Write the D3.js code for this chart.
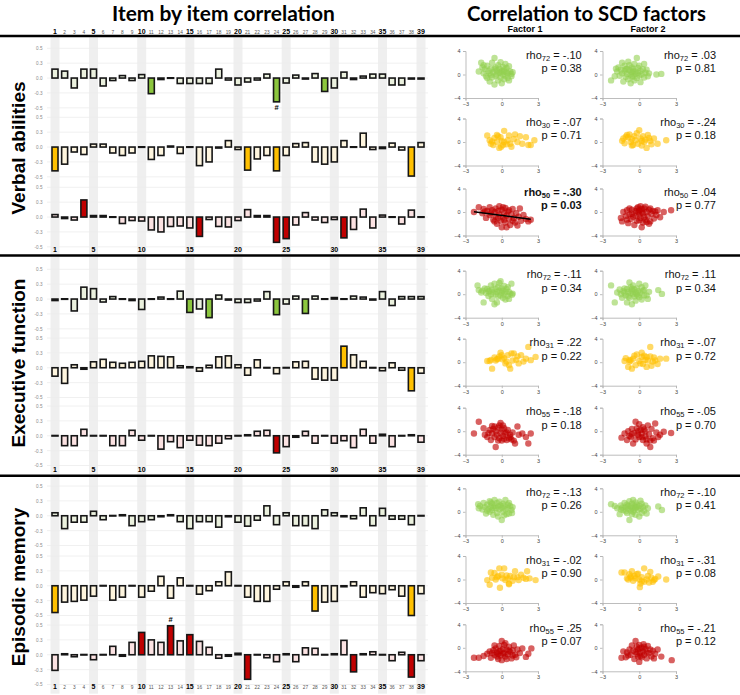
<!DOCTYPE html>
<html><head><meta charset="utf-8">
<script src="https://cdn.jsdelivr.net/npm/d3@7"></script>
<style>body{margin:0;background:#fff}svg{display:block}</style>
</head><body>
<svg id="chart" width="740" height="695"></svg>
<script>
// ---------------- DATA ----------------
const items = [1,2,3,4,5,6,7,8,9,10,11,12,13,14,15,16,17,18,19,20,21,22,23,24,25,26,27,28,29,30,31,32,33,34,35,36,37,38,39];
const boldItems = [1,5,10,15,20,25,30,35,39];
const yTickValues = [0.5,0.3,0,-0.3,-0.5];
const yTickLabels = ["0.5","0.3","0.0","-0.3","-0.5"];
const sectionNames = ["Verbal abilities","Executive function","Episodic memory"];
const groupNames = ["green","yellow","red"];
const factorNames = ["Factor 1","Factor 2"];
const scatterXTicks = [-3,0,3];
const scatterYTicks = [4,0,-4];

// item-by-item correlation bars
const verbalGreen  = [0.18,0.14,-0.20,0.18,0.18,-0.16,-0.05,0.05,-0.05,0.07,-0.31,-0.03,0.01,-0.11,-0.11,-0.11,-0.11,0.18,-0.04,-0.14,-0.08,-0.04,0.08,-0.42,-0.10,0.06,-0.02,0.09,-0.27,-0.20,0.12,-0.03,0.04,0.08,0.08,-0.14,-0.14,-0.02,-0.02];
const verbalYellow = [-0.42,-0.33,-0.10,-0.15,0.06,0.06,-0.12,-0.17,-0.12,-0.01,-0.25,-0.17,0.02,-0.13,-0.01,-0.35,-0.30,-0.02,0.13,-0.05,-0.41,-0.24,-0.17,-0.42,-0.17,0.07,0.09,-0.30,-0.33,-0.30,0.13,0.00,0.28,-0.05,-0.03,0.08,-0.06,-0.49,0.09];
const verbalRed    = [0.05,-0.03,-0.06,0.33,0.03,0.03,0.00,-0.13,-0.07,-0.08,-0.26,-0.30,-0.19,-0.18,-0.22,-0.36,-0.05,-0.19,-0.20,-0.07,0.15,0.03,0.03,-0.44,-0.39,-0.16,0.09,-0.06,-0.11,-0.05,-0.38,-0.25,0.16,-0.22,0.04,0.01,-0.14,0.14,0.00];
const execGreen    = [-0.03,-0.01,-0.24,0.24,0.21,-0.06,0.05,-0.01,-0.03,-0.21,0.00,0.04,0.00,0.16,-0.27,-0.20,-0.35,0.08,-0.02,-0.07,-0.07,-0.04,0.15,-0.31,-0.10,0.06,-0.29,0.06,-0.01,0.03,-0.01,0.06,0.04,-0.02,0.15,-0.13,0.05,0.05,0.05];
const execYellow   = [-0.17,-0.31,0.06,-0.03,0.12,0.17,0.11,0.09,0.11,0.13,0.24,0.23,0.22,0.04,0.02,-0.07,0.05,0.22,0.24,0.06,-0.15,0.16,-0.01,-0.12,-0.01,0.12,0.13,-0.23,-0.25,-0.25,0.39,0.26,0.13,-0.01,-0.06,0.10,-0.05,-0.41,-0.11];
const execRed      = [0.01,-0.20,-0.20,0.13,0.00,-0.01,-0.20,-0.20,0.11,-0.09,-0.01,-0.27,-0.12,-0.24,-0.09,-0.19,-0.20,-0.15,-0.06,-0.01,0.02,0.09,0.11,-0.33,-0.22,-0.03,0.09,-0.15,0.01,-0.15,-0.10,-0.24,0.13,-0.15,0.03,-0.22,-0.01,0.02,-0.13];
const epiGreen     = [0.06,-0.26,-0.13,-0.13,0.09,-0.08,-0.01,0.02,-0.20,-0.12,-0.08,-0.02,0.02,-0.12,-0.26,-0.12,-0.12,-0.23,-0.02,-0.13,-0.21,-0.09,0.20,-0.18,0.06,-0.20,-0.20,-0.26,0.12,0.06,-0.02,-0.06,0.16,-0.20,0.15,-0.07,-0.07,-0.18,-0.01];
const epiYellow    = [-0.46,-0.32,-0.31,-0.29,-0.21,0.00,-0.29,-0.23,-0.01,-0.23,-0.11,0.19,-0.25,0.16,-0.01,-0.17,-0.10,0.08,0.28,-0.01,-0.23,-0.31,-0.31,-0.07,0.08,-0.03,0.08,-0.44,-0.32,-0.31,-0.02,0.08,-0.23,-0.14,-0.16,-0.08,-0.21,-0.50,-0.16];
const epiRed       = [-0.31,0.02,-0.04,0.01,-0.10,0.01,0.17,-0.03,0.25,0.40,0.30,0.25,0.49,0.28,0.37,0.27,0.15,-0.07,-0.03,0.03,-0.43,0.01,-0.06,-0.14,0.02,-0.14,0.14,0.13,-0.01,0.02,0.29,-0.33,0.02,0.06,-0.01,-0.12,0.05,-0.40,-0.12];

// significant items (full colour)
const sigVerbalGreen = [11,24,29];
const sigVerbalYellow = [1,21,24,38];
const sigVerbalRed = [4,16,24,25,31];
const sigExecGreen = [15,17,24,27];
const sigExecYellow = [31,38];
const sigExecRed = [24];
const sigEpiGreen = [];
const sigEpiYellow = [1,28,38];
const sigEpiRed = [10,13,15,21,32,38];
// "#" marks: [section, group, item, side]
const hashMarks = [[0,0,24,"below"],[2,2,13,"above"]];

// scatter points [factor score, test score]
const vGreenF1 = [[-1.9,0.5],[-1.7,2.0],[-1.6,1.2],[-1.5,0.2],[-1.4,0.9],[-1.3,-0.3],[-1.2,1.5],[-1.1,0.6],[-1.0,-1.2],[-1.0,0.2],[-0.9,1.0],[-0.8,-0.5],[-0.8,2.0],[-0.7,0.4],[-0.6,2.8],[-0.6,-1.7],[-0.5,1.2],[-0.5,-0.2],[-0.4,0.7],[-0.4,0.0],[-0.3,1.6],[-0.3,-1.0],[-0.2,0.3],[-0.2,1.0],[-0.1,-0.5],[-0.1,2.1],[0.0,0.6],[0.0,-1.5],[0.1,1.3],[0.1,0.0],[0.2,-0.8],[0.2,0.8],[0.3,1.8],[0.3,-0.2],[0.4,0.4],[0.4,1.1],[0.5,-0.6],[0.5,0.2],[0.6,1.4],[0.6,-1.0],[0.7,0.5],[0.8,0.1],[0.8,-0.3],[0.9,0.4],[-1.2,-0.6],[-0.9,-0.1],[-0.1,0.4],[0.2,0.5],[-0.6,0.9],[-1.5,1.6]];
const vGreenF2 = [[-2.3,-1.0],[-2.0,-0.3],[-1.8,0.5],[-1.7,1.2],[-1.6,-0.2],[-1.5,0.8],[-1.4,2.0],[-1.4,0.2],[-1.3,-1.2],[-1.2,1.5],[-1.2,0.6],[-1.1,-0.4],[-1.0,1.0],[-1.0,0.1],[-0.9,2.2],[-0.9,-0.8],[-0.8,0.7],[-0.8,1.6],[-0.7,0.0],[-0.7,-1.5],[-0.6,1.2],[-0.6,0.4],[-0.5,-0.3],[-0.5,0.9],[-0.4,1.8],[-0.4,-1.0],[-0.3,0.5],[-0.3,0.1],[-0.2,2.8],[-0.2,-0.6],[-0.1,1.1],[-0.1,0.3],[0.0,-0.2],[0.0,1.5],[0.1,0.6],[0.1,-1.3],[0.2,0.0],[0.3,0.9],[0.4,1.8],[0.4,-0.5],[0.5,0.3],[0.6,0.8],[0.7,-0.3],[0.8,0.2],[1.4,0.0],[1.8,0.1],[-1.1,0.9],[-0.5,0.5],[-1.9,1.0],[-0.6,-0.4]];
const vYellowF1 = [[-1.2,1.1],[-1.0,0.3],[-0.9,-0.3],[-0.8,0.1],[-0.6,0.7],[-0.4,1.2],[-0.3,1.0],[-0.1,0.8],[0.2,1.9],[0.1,-0.5],[-0.05,-0.8],[0.5,0.3],[0.6,1.1],[0.7,-0.3],[1.0,0.5],[1.3,0.0],[1.5,1.0],[1.7,-0.3],[2.0,0.8],[2.2,-0.5],[2.4,-0.5],[2.7,0.3],[0.2,0.0],[-0.4,0.0],[-0.7,-0.5],[0.0,0.2],[1.1,1.3],[0.8,-0.8],[0.4,-0.4],[-0.2,-1.0]];
const vYellowF2 = [[-1.4,0.2],[-1.3,0.6],[-1.2,-0.2],[-1.0,1.2],[-0.9,0.8],[-0.8,1.3],[-0.7,0.0],[-0.6,0.5],[-0.5,-0.5],[-0.4,1.0],[-0.3,0.3],[-0.2,1.5],[-0.1,-0.3],[0.0,2.0],[0.1,0.6],[0.2,-0.6],[0.3,1.0],[0.4,0.0],[0.5,0.4],[0.6,-1.0],[0.8,0.7],[0.9,0.2],[1.0,-0.4],[1.2,0.6],[1.5,-0.3],[2.2,0.3],[-0.6,-0.6],[0.2,0.2],[-1.1,0.9],[0.7,1.2]];
const vRedF1 = [[-2.3,0.0],[-1.9,0.8],[-1.6,-0.2],[-1.5,0.5],[-1.3,-1.0],[-1.2,0.2],[-1.0,-0.5],[-1.0,0.8],[-0.8,0.3],[-0.7,-1.3],[-0.6,0.0],[-0.5,0.6],[-0.5,-0.8],[-0.4,-2.0],[-0.3,0.2],[-0.2,-0.4],[-0.2,1.0],[-0.1,-1.5],[0.0,0.4],[0.0,-2.6],[0.1,-0.9],[0.2,-0.2],[0.3,0.7],[0.3,-1.8],[0.4,-0.6],[0.5,0.1],[0.6,-1.2],[0.7,-2.2],[0.8,-0.4],[0.9,0.5],[1.0,-1.0],[1.1,-1.8],[1.2,-0.2],[1.4,-0.8],[1.5,0.6],[1.6,-1.5],[1.8,-0.5],[2.0,-1.2],[2.2,-1.6],[2.4,-1.3],[-0.9,-0.2],[0.2,-1.3],[-0.3,-1.0],[0.6,0.3],[1.3,-2.3],[-1.4,0.1],[0.9,-1.5],[0.4,-2.6],[-0.6,-1.6],[0.1,0.8]];
const vRedF2 = [[-1.5,-1.0],[-1.4,-1.6],[-1.3,0.0],[-1.1,-0.7],[-1.0,0.3],[-0.9,-1.9],[-0.8,-0.4],[-0.7,-1.2],[-0.6,0.4],[-0.5,-0.8],[-0.4,-2.2],[-0.3,0.2],[-0.2,-1.5],[-0.1,0.8],[0.0,0.3],[0.0,-0.4],[0.1,1.0],[0.1,-1.0],[0.2,0.5],[0.2,-2.6],[0.3,-0.2],[0.4,0.6],[0.5,-1.3],[0.6,0.0],[0.7,-0.7],[0.8,0.4],[0.9,-1.6],[1.0,-0.3],[1.1,0.2],[1.2,-1.1],[1.4,-0.5],[1.5,0.3],[1.7,-0.9],[2.0,0.0],[2.6,0.3],[-0.2,0.6],[0.3,-1.8],[-0.6,-0.3],[0.5,0.9],[0.0,-1.4],[-1.0,-1.3],[0.8,-2.0],[0.4,-0.9],[-0.3,-0.6],[1.3,0.1],[0.6,-1.7],[-0.1,0.0],[0.9,0.6],[-0.8,0.6],[0.2,0.0]];
const eGreenF1 = [[-2.0,1.5],[-1.9,0.7],[-1.7,0.3],[-1.6,0.6],[-1.5,-1.4],[-1.4,1.0],[-1.3,0.2],[-1.2,0.9],[-1.1,-0.3],[-1.0,0.5],[-0.9,1.5],[-0.9,0.0],[-0.8,-0.8],[-0.8,0.8],[-0.7,0.3],[-0.6,1.8],[-0.6,-1.7],[-0.5,0.0],[-0.5,0.9],[-0.4,-1.4],[-0.4,0.4],[-0.3,1.2],[-0.3,-0.4],[-0.2,1.9],[-0.2,0.6],[-0.1,2.2],[-0.1,-0.2],[0.0,0.3],[0.0,1.0],[0.1,-0.6],[0.1,0.6],[0.2,1.4],[0.2,0.0],[0.3,0.4],[0.3,-0.9],[0.4,0.9],[0.5,1.2],[0.5,-0.3],[0.6,-0.8],[0.6,0.4],[0.7,0.1],[0.8,1.8],[0.9,0.1],[0.85,-0.1],[-1.1,0.5]];
const eGreenF2 = [[-2.3,1.5],[-2.0,-1.4],[-1.8,0.3],[-1.6,0.8],[-1.5,0.0],[-1.4,-0.6],[-1.3,0.5],[-1.2,1.0],[-1.1,-0.2],[-1.0,0.9],[-1.0,-1.4],[-0.9,0.4],[-0.8,2.0],[-0.8,-0.6],[-0.7,0.2],[-0.7,1.2],[-0.6,-1.7],[-0.6,0.6],[-0.5,0.0],[-0.5,1.5],[-0.4,-0.4],[-0.4,0.8],[-0.3,0.3],[-0.3,-1.1],[-0.2,1.0],[-0.2,0.0],[-0.1,0.5],[0.0,1.8],[0.0,-0.5],[0.1,0.2],[0.2,1.2],[0.2,-0.9],[0.3,0.6],[0.4,-0.2],[0.5,1.5],[0.6,-0.2],[0.7,-0.8],[0.8,0.4],[1.55,0.7],[1.85,0.05],[-1.2,0.3],[-0.9,-0.4],[-0.1,-0.2],[0.4,0.7],[-0.6,0.9]];
const eYellowF1 = [[-1.2,0.2],[-1.0,0.2],[-0.9,0.4],[-0.8,-1.1],[-0.6,0.8],[-0.5,0.3],[-0.3,0.6],[-0.2,1.0],[-0.1,1.6],[0.0,1.2],[0.05,0.5],[0.2,0.7],[0.3,-0.2],[0.5,1.2],[0.6,-0.5],[0.7,-1.1],[0.8,1.5],[0.9,0.3],[1.0,1.5],[1.2,0.4],[1.4,-0.2],[1.6,1.2],[1.8,0.1],[2.0,0.6],[2.2,2.6],[2.4,0.35],[2.8,0.9],[1.3,1.0],[0.4,0.1],[-0.4,0.5]];
const eYellowF2 = [[-1.2,0.2],[-1.1,0.7],[-0.9,-0.8],[-0.8,0.4],[-0.7,0.3],[-0.6,-1.1],[-0.4,1.1],[-0.2,1.3],[0.0,0.2],[0.1,-0.2],[0.2,0.9],[0.3,-0.3],[0.4,1.1],[0.5,0.4],[0.6,-0.8],[0.7,0.3],[0.9,2.6],[0.9,1.0],[1.1,0.1],[1.3,0.3],[1.5,-0.3],[1.7,0.6],[2.2,0.6],[-0.3,-0.5],[0.6,0.9],[-0.8,0.1],[1.0,-0.6],[0.2,1.6],[-0.5,0.6],[1.2,0.8]];
const eRedF1 = [[-2.3,-0.4],[-1.9,1.6],[-1.5,0.5],[-1.4,-0.6],[-1.2,-1.0],[-1.0,0.2],[-0.9,-1.5],[-0.8,-0.4],[-0.7,0.4],[-0.6,-1.0],[-0.5,-2.7],[-0.5,0.0],[-0.4,-0.6],[-0.3,0.6],[-0.2,1.0],[-0.2,-1.2],[-0.1,1.4],[-0.1,-0.3],[0.0,0.3],[0.0,-1.6],[0.1,-0.8],[0.2,0.5],[0.2,-1.3],[0.3,-0.4],[0.4,-1.5],[0.5,0.2],[0.6,-1.2],[0.7,-0.6],[0.8,-1.4],[0.9,-0.2],[1.0,-1.6],[1.1,-2.1],[1.3,0.8],[1.4,-0.6],[1.7,-0.4],[2.0,-1.0],[2.2,-2.1],[2.4,-0.4],[-0.6,0.8],[0.4,-0.2],[-1.1,-0.3],[0.1,1.0],[-0.3,-1.6],[0.7,-1.0],[-0.8,0.9]];
const eRedF2 = [[-1.45,-1.1],[-1.2,-0.4],[-1.0,-1.5],[-0.9,0.0],[-0.8,-0.8],[-0.7,-1.0],[-0.5,-2.1],[-0.4,-0.3],[-0.3,1.6],[-0.3,-1.4],[-0.2,0.5],[-0.1,-0.6],[0.0,1.2],[0.0,-1.0],[0.1,0.2],[0.2,-0.4],[0.3,-1.5],[0.4,0.3],[0.5,-0.9],[0.6,-1.4],[0.7,1.0],[0.8,-0.5],[0.9,-1.6],[0.9,-2.7],[1.0,0.4],[1.1,-1.2],[1.3,1.3],[1.4,-0.2],[1.55,-1.0],[1.7,-0.6],[2.0,-0.1],[2.6,-0.3],[-0.6,0.4],[0.3,0.7],[0.6,-2.1],[-0.1,0.0],[0.5,0.0],[-0.6,-0.5],[1.2,-1.6],[0.2,-1.0]];
const mGreenF1 = [[-1.95,1.3],[-1.9,0.6],[-1.8,1.0],[-1.6,0.4],[-1.5,1.5],[-1.4,0.8],[-1.3,-0.3],[-1.2,1.2],[-1.1,0.5],[-1.0,1.8],[-1.0,0.0],[-0.9,0.9],[-0.8,1.4],[-0.8,0.3],[-0.7,-0.5],[-0.6,1.0],[-0.6,2.0],[-0.5,0.6],[-0.4,1.5],[-0.4,-0.2],[-0.3,0.9],[-0.3,-0.8],[-0.2,1.7],[-0.2,0.4],[-0.1,1.1],[0.0,-1.4],[0.0,0.7],[0.1,1.4],[0.1,0.0],[0.2,1.0],[0.3,0.4],[0.3,2.0],[0.4,-0.4],[0.5,1.2],[0.5,0.6],[0.6,-0.3],[0.7,1.0],[0.8,0.3],[0.85,-0.2],[0.9,0.8],[-1.2,0.2],[-0.7,0.7],[0.2,-0.6],[-0.9,1.6],[0.6,1.5]];
const mGreenF2 = [[-2.3,1.3],[-2.0,1.0],[-1.8,0.6],[-1.6,-0.4],[-1.5,1.1],[-1.4,0.7],[-1.3,0.3],[-1.2,1.5],[-1.1,0.8],[-1.0,-0.2],[-1.0,1.2],[-0.9,0.5],[-0.8,1.8],[-0.8,-1.4],[-0.7,0.9],[-0.7,0.2],[-0.6,1.4],[-0.6,0.6],[-0.5,2.0],[-0.5,0.0],[-0.4,1.0],[-0.4,0.4],[-0.3,1.6],[-0.3,-0.5],[-0.2,0.8],[-0.2,1.2],[-0.1,0.3],[0.0,1.0],[0.0,-0.8],[0.1,0.5],[0.2,1.4],[0.2,-0.2],[0.3,0.8],[0.4,0.2],[0.5,1.1],[0.6,-0.3],[0.7,0.6],[1.55,0.9],[1.85,0.3],[-1.1,0.1],[-0.9,1.0],[-0.3,0.7],[0.1,1.9],[-1.5,0.4],[-0.6,-0.4]];
const mYellowF1 = [[-1.2,-0.1],[-1.0,-0.9],[-0.9,1.2],[-0.8,0.3],[-0.6,1.1],[-0.5,0.0],[-0.3,0.6],[-0.2,1.9],[-0.15,-1.4],[0.0,0.8],[0.05,0.2],[0.2,1.9],[0.3,-0.1],[0.4,0.7],[0.5,0.2],[0.6,-0.7],[0.7,0.6],[0.9,-0.2],[1.1,1.4],[1.3,0.4],[1.4,-0.1],[1.6,0.8],[1.8,0.3],[2.0,0.1],[2.1,1.4],[2.3,0.2],[2.8,-0.1],[0.6,-0.8],[-0.4,0.4],[1.0,0.4]];
const mYellowF2 = [[-1.45,1.2],[-1.2,1.2],[-1.0,0.2],[-0.9,0.0],[-0.8,0.9],[-0.7,0.3],[-0.6,1.4],[-0.5,-0.2],[-0.3,0.2],[-0.2,0.9],[0.0,0.0],[0.05,-1.3],[0.1,-0.7],[0.2,0.4],[0.4,1.9],[0.4,-0.4],[0.6,0.0],[0.8,-0.5],[0.9,1.3],[1.0,0.3],[1.2,-0.1],[1.3,0.1],[1.55,0.5],[2.2,0.0],[-0.4,0.6],[0.2,-0.3],[-0.1,1.0],[0.7,0.6],[-0.7,0.5],[1.1,-0.4]];
const mRedF1 = [[-2.3,-1.7],[-1.9,-1.7],[-1.5,-1.4],[-1.2,-1.0],[-1.0,-0.6],[-0.9,-1.7],[-0.7,-0.4],[-0.6,-1.2],[-0.5,-0.1],[-0.4,-0.8],[-0.3,-1.9],[-0.2,0.3],[-0.1,-0.5],[-0.1,-1.3],[0.0,1.15],[0.0,-2.1],[0.1,-0.2],[0.2,-0.9],[0.2,0.5],[0.3,-1.5],[0.4,-0.3],[0.5,-1.1],[0.6,0.2],[0.7,-0.7],[0.8,-1.8],[0.9,-0.4],[1.0,0.4],[1.1,-1.2],[1.3,-0.3],[1.5,-0.9],[1.7,-0.1],[2.0,-1.55],[2.2,-1.0],[2.45,-0.1],[-0.6,0.4],[0.4,-1.9],[-0.3,-1.0],[0.6,-0.5],[-0.8,-0.9],[1.2,-1.6],[-0.2,-0.6],[0.3,0.8],[0.9,-1.3],[-0.4,-1.5],[0.1,-1.0]];
const mRedF2 = [[-1.45,-1.7],[-1.3,-0.6],[-1.1,-1.6],[-1.0,-0.8],[-0.8,-0.3],[-0.7,-1.2],[-0.5,-0.5],[-0.4,-1.9],[-0.3,1.15],[-0.2,0.2],[-0.2,-1.0],[-0.1,-0.3],[0.0,0.5],[0.0,-2.4],[0.05,-0.8],[0.1,-1.4],[0.2,0.0],[0.3,-0.6],[0.35,0.6],[0.4,-1.2],[0.5,-0.2],[0.6,-1.8],[0.7,0.3],[0.8,-0.9],[0.9,-0.3],[1.0,-1.5],[1.1,-0.5],[1.3,-1.0],[1.5,-0.3],[1.8,-1.5],[2.65,-2.1],[-0.6,0.4],[0.2,-1.6],[-0.3,-0.7],[0.6,-0.8],[-0.9,-1.3],[0.4,0.2],[-0.1,-1.5],[1.2,-1.8],[0.0,-0.1]];
// fitted line in the significant panel (verbal / red / factor 1): endpoints
const vRedF1Fit = [[-2.3,0.05],[2.4,-1.24]];

// statistics text: [n, rho, p]
const statsVerbal = [[["72","-.10","0.38"],["72",".03","0.81"]],[["30","-.07","0.71"],["30","-.24","0.18"]],[["50","-.30","0.03"],["50",".04","0.77"]]];
const statsExec   = [[["72","-.11","0.34"],["72",".11","0.34"]],[["31",".22","0.22"],["31","-.07","0.72"]],[["55","-.18","0.18"],["55","-.05","0.70"]]];
const statsEpi    = [[["72","-.13","0.26"],["72","-.10","0.41"]],[["31","-.02","0.90"],["31","-.31","0.08"]],[["55",".25","0.07"],["55","-.21","0.12"]]];
const boldStats = [[0,2,0]]; // section, group, factor

// ---------------- ASSEMBLY ----------------
const barData = [[verbalGreen,verbalYellow,verbalRed],[execGreen,execYellow,execRed],[epiGreen,epiYellow,epiRed]];
const sigData = [[sigVerbalGreen,sigVerbalYellow,sigVerbalRed],[sigExecGreen,sigExecYellow,sigExecRed],[sigEpiGreen,sigEpiYellow,sigEpiRed]];
const scatterData = [[[vGreenF1,vGreenF2],[vYellowF1,vYellowF2],[vRedF1,vRedF2]],
                     [[eGreenF1,eGreenF2],[eYellowF1,eYellowF2],[eRedF1,eRedF2]],
                     [[mGreenF1,mGreenF2],[mYellowF1,mYellowF2],[mRedF1,mRedF2]]];
const statsData = [statsVerbal,statsExec,statsEpi];

// ---------------- LAYOUT / STYLE ----------------
const colors = {green:{full:"#8cc63e",tint:"#ebf1de",dot:"#92d050"},
                yellow:{full:"#ffc000",tint:"#fef5de",dot:"#ffc000"},
                red:{full:"#c00000",tint:"#fbe2e2",dot:"#c00000"}};
const sectionLines = [36,255.5,475.7];
const sectionBottoms = [255.5,475.7,695];
const panelTops = [[48.3,117.3,187.3],[269.3,338,406],[486,556,625]];
const panelH = 59.5;
const bottomNumY = [252,471.5,689];
const scTops = [[51,118.5,188.5],[270.7,338.7,407.7],[488.3,556,624.3]];
const scH = 47;
const scCols = [[465.5,538],[602.5,676]];
const factorCenters = [525,648];
const statRight = [581.7,716];
const labelCenters = [148,363,587];
const sansArial = "'Liberation Sans', Arial, sans-serif";

const svg = d3.select("#chart");
const x = d3.scalePoint().domain(items).range([55,421]);
const barW = 6, bandW = 9, minBarH = 0.5;

// backgrounds: grey bands per section
sectionLines.forEach((top,s)=>{
  svg.append("g").selectAll("rect").data(boldItems).join("rect")
    .attr("x",d=>x(d)-bandW/2).attr("width",bandW)
    .attr("y",top+1.3).attr("height",sectionBottoms[s]-top-2.6)
    .attr("fill","#efefef");
});

function panelScale(top){
  return d3.scaleLinear().domain([0.5,0.3,0,-0.3,-0.5])
    .range([top, top+panelH*0.25, top+panelH*0.5, top+panelH*0.75, top+panelH]);
}

// bar panels
barData.forEach((groups,s)=>{
  groups.forEach((vals,gi)=>{
    const top = panelTops[s][gi];
    const y = panelScale(top);
    const g = svg.append("g");
    g.selectAll("line.grid").data(yTickValues).join("line")
      .attr("x1",47).attr("x2",428).attr("y1",d=>y(d)).attr("y2",d=>y(d))
      .attr("stroke","#ececec").attr("stroke-width",0.8);
    const ax = d3.axisLeft(y).tickValues(yTickValues).tickSize(0)
      .tickFormat((d,i)=>yTickLabels[i]);
    const ag = g.append("g").attr("transform","translate(45.5,0)").call(ax);
    ag.select(".domain").remove();
    ag.selectAll("text").attr("font-size",4.6).attr("fill","#8a8a8a")
      .attr("font-family",sansArial).attr("dx",0);
    const col = colors[groupNames[gi]];
    const sig = sigData[s][gi];
    g.selectAll("rect.bar").data(vals.map((v,i)=>({item:items[i],v})))
      .join("rect")
      .attr("x",d=>x(d.item)-barW/2).attr("width",barW)
      .attr("y",d=>{
        const h = Math.abs(y(d.v)-y(0));
        return h<minBarH ? y(0)-minBarH/2 : Math.min(y(d.v),y(0));
      })
      .attr("height",d=>Math.max(minBarH,Math.abs(y(d.v)-y(0))))
      .attr("fill",d=>sig.includes(d.item)?col.full:col.tint)
      .attr("stroke","#161616").attr("stroke-width",1.6);
  });
});

// hash marks
hashMarks.forEach(([s,gi,item,side])=>{
  const y = panelScale(panelTops[s][gi]);
  const v = barData[s][gi][items.indexOf(item)];
  svg.append("text").attr("x",x(item)).attr("text-anchor","middle")
    .attr("y", side==="below" ? y(v)+8 : y(v)-3.5)
    .attr("font-family",sansArial).attr("font-weight","bold").attr("font-size",7.5)
    .text("#");
});

// item number rows
function numberRow(yPos, all){
  const data = all ? items : boldItems;
  svg.append("g").selectAll("text").data(data).join("text")
    .attr("x",d=>x(d)).attr("y",yPos).attr("text-anchor","middle")
    .attr("font-family",sansArial)
    .attr("font-weight",d=>boldItems.includes(d)?"bold":"normal")
    .attr("font-size",d=>boldItems.includes(d)?7:4.8)
    .attr("fill",d=>boldItems.includes(d)?"#000":"#555")
    .text(d=>d);
}
numberRow(34,true);
numberRow(bottomNumY[0],false);
numberRow(bottomNumY[1],false);
numberRow(bottomNumY[2],true);

// section lines
sectionLines.forEach(yv=>{
  svg.append("line").attr("x1",0).attr("x2",740).attr("y1",yv).attr("y2",yv)
    .attr("stroke","#000").attr("stroke-width",2.6);
});

// section labels (rotated)
sectionNames.forEach((name,s)=>{
  svg.append("text").attr("transform",`translate(24.5,${labelCenters[s]}) rotate(-90)`)
    .attr("text-anchor","middle").attr("font-family",sansArial)
    .attr("font-weight","bold").attr("font-size",19).attr("fill","#000").text(name);
});

// titles, fitted to target widths
function fitTitle(txt, cx, base, targetW){
  const t = svg.append("text").attr("x",cx).attr("y",base).attr("text-anchor","middle")
    .attr("font-family","Lato, 'Open Sans', sans-serif").attr("font-weight","bold")
    .attr("font-size",22).attr("fill","#000").text(txt);
  const w = t.node().getComputedTextLength();
  if (w>0) t.attr("font-size", 22*targetW/w);
}
fitTitle("Item by item correlation",223.5,20.5,223);
fitTitle("Correlation to SCD factors",586.5,20.5,239);

// factor labels
factorNames.forEach((f,c)=>{
  svg.append("text").attr("x",factorCenters[c]).attr("y",31.5)
    .attr("text-anchor","middle").attr("font-family",sansArial).attr("font-weight","bold")
    .attr("font-size",9).text(f);
});

// scatter plots
scatterData.forEach((groups,s)=>{
  groups.forEach((cols,gi)=>{
    cols.forEach((pts,c)=>{
      const top = scTops[s][gi];
      const xs = d3.scaleLinear().domain([-3,3]).range(scCols[c]);
      const ys = d3.scaleLinear().domain([-4,4]).range([top+scH, top]);
      const g = svg.append("g");
      const xa = g.append("g").attr("transform",`translate(0,${top+scH})`)
        .call(d3.axisBottom(xs).tickValues(scatterXTicks).tickSize(2.5).tickPadding(1.5).tickFormat(d3.format("d")));
      const ya = g.append("g").attr("transform",`translate(${scCols[c][0]},0)`)
        .call(d3.axisLeft(ys).tickValues(scatterYTicks).tickSize(2.5).tickPadding(2.5).tickFormat(d3.format("d")));
      [xa,ya].forEach(a=>{
        a.select(".domain").attr("stroke","#b5b5b5").attr("stroke-width",0.9);
        a.selectAll(".tick line").attr("stroke","#b5b5b5").attr("stroke-width",0.9);
        a.selectAll("text").attr("font-size",5.5).attr("fill","#444").attr("font-family",sansArial);
      });
      const col = colors[groupNames[gi]];
      g.selectAll("circle").data(pts).join("circle")
        .attr("cx",d=>xs(d[0])).attr("cy",d=>ys(d[1])).attr("r",3.2)
        .attr("fill",col.dot).attr("fill-opacity",gi===2?0.62:0.6);
      if (s===0 && gi===2 && c===0){
        g.append("path").datum(vRedF1Fit)
          .attr("d",d3.line().x(d=>xs(d[0])).y(d=>ys(d[1])))
          .attr("stroke","#000").attr("stroke-width",1.6).attr("fill","none");
      }
      const st = statsData[s][gi][c];
      const isBold = boldStats.some(b=>b[0]===s&&b[1]===gi&&b[2]===c);
      const fw = isBold?"bold":"normal";
      const t1 = g.append("text").attr("x",statRight[c]).attr("y",top+7.5)
        .attr("text-anchor","end").attr("font-family",sansArial).attr("font-size",11)
        .attr("font-weight",fw).attr("fill","#111");
      t1.append("tspan").text("rho");
      t1.append("tspan").attr("font-size",7.5).attr("dy",2.2).text(st[0]);
      t1.append("tspan").attr("dy",-2.2).text(" = "+st[1]);
      g.append("text").attr("x",statRight[c]).attr("y",top+20.8)
        .attr("text-anchor","end").attr("font-family",sansArial).attr("font-size",11)
        .attr("font-weight",fw).attr("fill","#111").text("p = "+st[2]);
    });
  });
});
</script>
</body></html>
